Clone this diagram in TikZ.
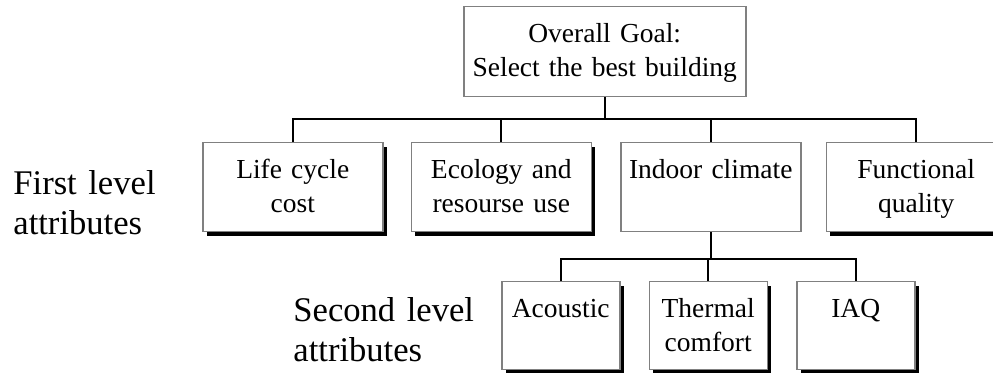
\documentclass[tikz,border=0pt]{standalone}
\usepackage{fontspec}
\setmainfont{Liberation Serif}
\usetikzlibrary{positioning,shadows}
\definecolor{boxline}{RGB}{128,128,128}

\begin{document}
\begin{tikzpicture}[
  node distance=14pt,
  blk/.style={draw=boxline,line width=0.75pt,fill=white,inner sep=0pt,align=center,
              font=\fontsize{13.75pt}{17pt}\selectfont,text height=18pt},
  goalblk/.style={blk,text width=141pt,text depth=27pt},
  attrblk/.style={blk,text width=90pt,text depth=26.5pt},
  subblk/.style={blk,text width=59pt,text depth=26pt},
  shad/.style={drop shadow={shadow xshift=2pt,shadow yshift=-2pt,fill=black,opacity=1}},
  lvltxt/.style={inner sep=0pt,text width=100pt,align=left,
                 font=\fontsize{17.3pt}{20pt}\selectfont},
  ln/.style={line width=1pt}
]
\useasboundingbox (0,0) rectangle (496.5pt,-186.5pt);

% goal and first level
\node[goalblk,anchor=north west] (goal) at (231.5pt,-3pt) {Overall Goal:\\Select the best building};
\node[attrblk,shad,anchor=north west] (life) at (101pt,-71pt) {Life cycle\\cost};
\node[attrblk,shad,right=13.5pt of life] (eco) {Ecology and\\resourse use};
\node[attrblk,right=14pt of eco] (indoor) {Indoor climate};
\node[attrblk,shad,right=12pt of indoor] (func) {Functional\\quality};

% second level
\node[subblk,shad,anchor=north west] (acou) at (250.5pt,-140.5pt) {Acoustic};
\node[subblk,shad,right=of acou] (therm) {Thermal\\comfort};
\node[subblk,shad,right=of therm] (iaq) {IAQ};

\node[lvltxt,anchor=base west] (first) at (6.5pt,-97.5pt) {First level\\attributes};
\node[lvltxt,anchor=base west] (second) at (146.5pt,-161pt) {Second level\\attributes};

\draw[ln] (goal.south) -- ++(0,-11pt) coordinate (bus1);
\draw[ln] (life.north) |- (bus1) -| (func.north);
\draw[ln] (eco.north) -- (eco.north |- bus1);
\draw[ln] (indoor.north) -- (indoor.north |- bus1);
\draw[ln] (indoor.south) -- ++(0,-13.5pt) coordinate (bus2);
\draw[ln] (acou.north) |- (bus2) -| (iaq.north);
\draw[ln] (therm.north) -- (therm.north |- bus2);
\end{tikzpicture}
\end{document}
